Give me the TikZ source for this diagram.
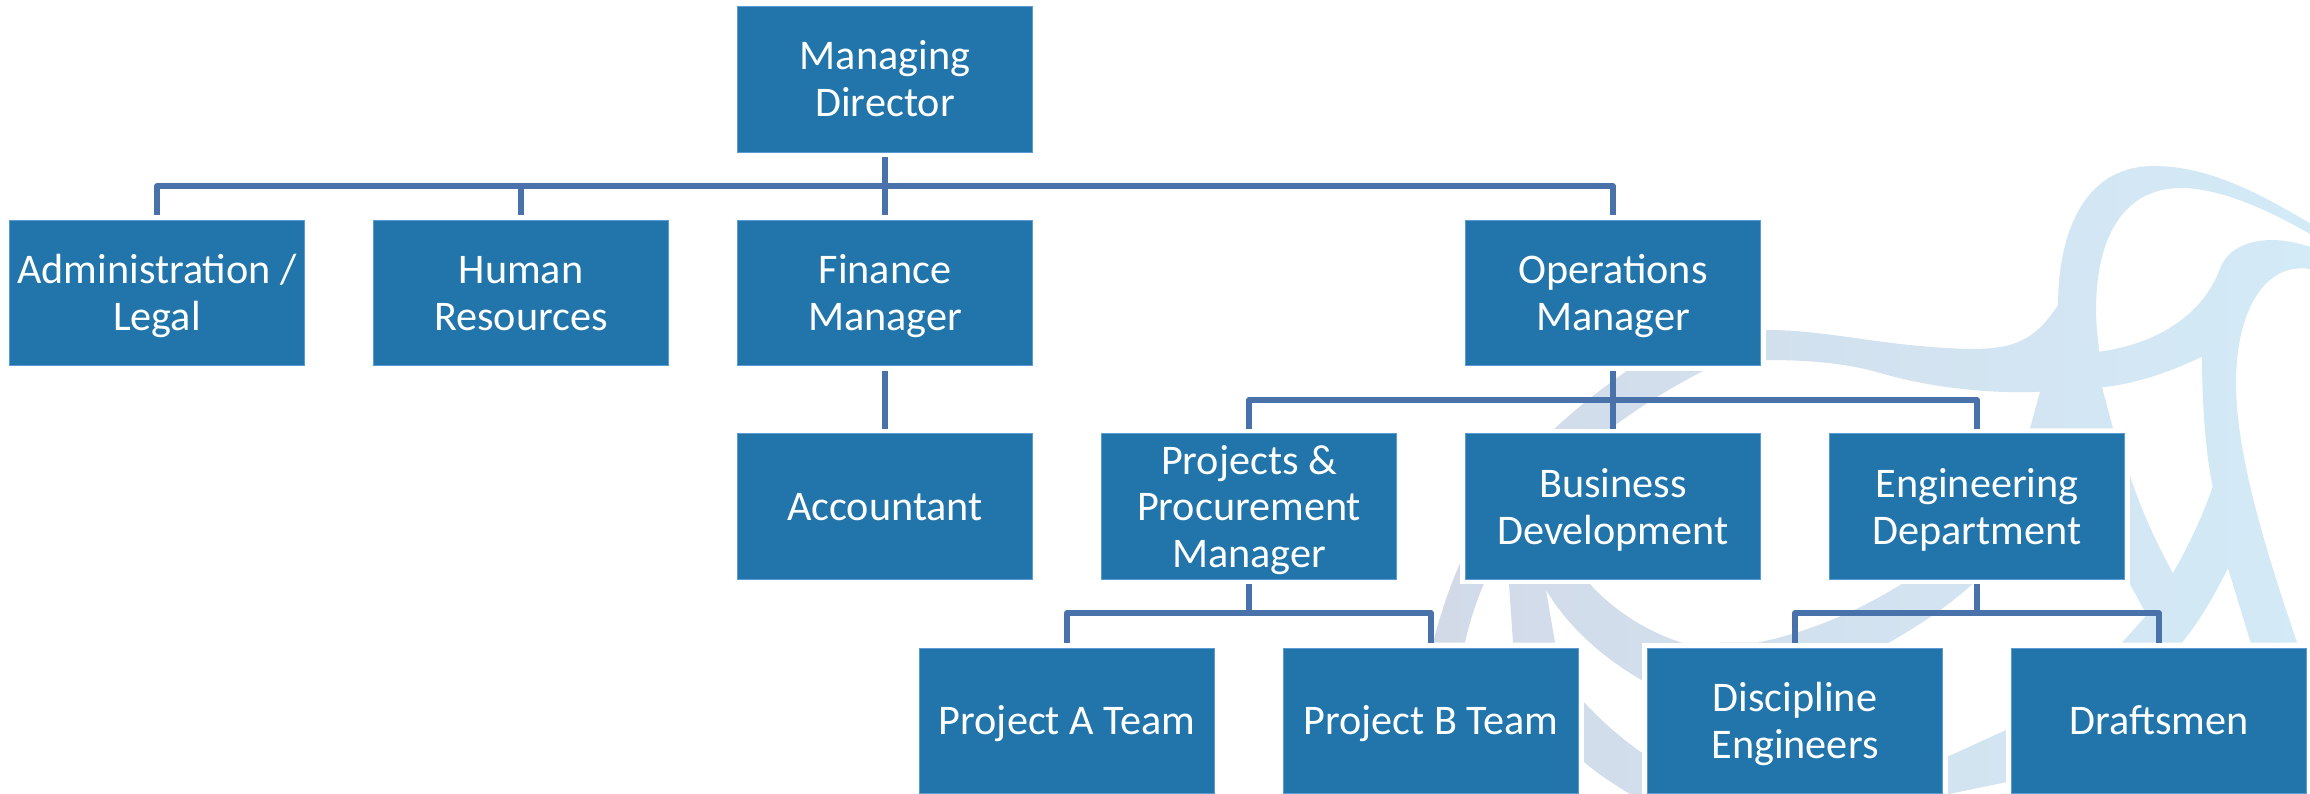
\documentclass[tikz,border=0pt]{standalone}
\usepackage{fontspec}
\setmainfont{Carlito}
\usetikzlibrary{backgrounds}
\definecolor{boxblue}{HTML}{2175AA}
\definecolor{boxedge}{HTML}{5B9BD5}
\definecolor{linkblue}{HTML}{4A72AA}
\definecolor{wmleft}{HTML}{D2DAE8}
\definecolor{wmmid}{HTML}{D1E0EE}
\definecolor{wmright}{HTML}{D3EAF7}
\newcommand{\lbl}[1]{\raisebox{-4.8pt}[\height][\depth]{\begin{tabular}{@{}c@{}}#1\end{tabular}}}
\tikzset{
  orgbox/.style={rectangle,fill=boxblue,draw=boxedge,line width=.8pt,text=white,
    minimum width=295.5pt,minimum height=145.7pt,inner sep=0pt,outer sep=0pt,
    font=\fontsize{42.2}{46.7}\selectfont,
    preaction={draw=white,line width=10pt,rounded corners=2pt}},
  link/.style={draw=linkblue,line width=5.6pt,line join=round},
}
\begin{document}
\begin{tikzpicture}[x=1pt,y=-1pt]
\useasboundingbox (0,0) rectangle (2310,794);
% nodes
\node[orgbox] (md) at (885,79.2) {\lbl{Managing\\Director}};
\node[orgbox] (adm) at (157,292.8) {\lbl{Administration /\\Legal}};
\node[orgbox] (hr) at (521,292.8) {\lbl{Human\\Resources}};
\node[orgbox] (fin) at (885,292.8) {\lbl{Finance\\Manager}};
\node[orgbox] (ops) at (1613,292.8) {\lbl{Operations\\Manager}};
\node[orgbox] (acc) at (885,506.6) {\lbl{Accountant}};
\node[orgbox] (ppm) at (1249,506.6) {\lbl{Projects \&\\Procurement\\Manager}};
\node[orgbox] (biz) at (1613,506.6) {\lbl{Business\\Development}};
\node[orgbox] (eng) at (1977,506.6) {\lbl{Engineering\\Department}};
\node[orgbox] (pa) at (1067,720.8) {\lbl{Project A Team}};
\node[orgbox] (pb) at (1431,720.8) {\lbl{Project B Team}};
\node[orgbox] (disc) at (1795,720.8) {\lbl{Discipline\\Engineers}};
\node[orgbox] (draft) at (2159,720.8) {\lbl{Draftsmen}};
\coordinate (bus1) at (885,186);
\coordinate (bus2) at (1613,400);
\coordinate (bus3) at (1249,613);
\coordinate (bus4) at (1977,613);
\begin{scope}[on background layer]
% watermark
\shade[left color=wmleft,middle color=wmmid,right color=wmright]
  % upper sweep with arches
  (1760,330) -- (1766.7,330)
  .. controls (1830,330) and (1885,347) .. (1970.5,349)
  .. controls (2015,349) and (2035,340) .. (2058.1,305)
  .. controls (2058,240) and (2080,166) .. (2154,166)
  .. controls (2210,166) and (2262,195) .. (2310,223.3)
  -- (2310,234)
  .. controls (2260,205) and (2215,188) .. (2181,188)
  .. controls (2125,188) and (2096,235) .. (2096,310)
  .. controls (2096,325) and (2098,340) .. (2099.2,351.7)
  .. controls (2150,345) and (2200,320) .. (2219.5,270)
  .. controls (2228,245) and (2255,240) .. (2272,240)
  .. controls (2285,240) and (2298,243) .. (2310,246.7)
  -- (2310,269)
  .. controls (2265,262) and (2236,310) .. (2236,383.3)
  .. controls (2236,450) and (2262,540) .. (2297,642.5)
  -- (2250.6,642.5) -- (2228,568.3)
  .. controls (2210,603) and (2200,620) .. (2182,642.5)
  -- (2122,642.5) -- (2146.8,615) -- (2125,575) -- (2125,465) -- (2130.6,478)
  .. controls (2145,520) and (2158,545) .. (2172.8,573.3)
  .. controls (2190,543) and (2203,515) .. (2212.7,486.7)
  .. controls (2205,450) and (2202,400) .. (2202,356.7)
  .. controls (2170,372) and (2135,384) .. (2102,387.3)
  -- (2113,428.3) -- (2030,428.3) -- (2040,391.7)
  .. controls (1990,394) and (1930,388) .. (1875.7,371.7)
  .. controls (1840,362) and (1800,360) .. (1766.7,360)
  -- (1760,360) -- cycle
  % left swoop
  (1630,368) -- (1626.7,371)
  .. controls (1540,432) and (1470,500) .. (1433,642.5)
  -- (1465,642.5)
  .. controls (1490,530) and (1570,440) .. (1703,371)
  -- (1703,368) -- cycle
  % ring
  (1509,584) -- (1513,642.5) -- (1555,642.5) -- (1546,590)
  .. controls (1570,630) and (1610,665) .. (1660,690)
  -- (1800,690) -- (1890,642)
  .. controls (1920,625) and (1948,606) .. (1972.7,584)
  -- (1901.7,584)
  .. controls (1860,610) and (1810,632) .. (1758,642.5)
  -- (1683,643)
  .. controls (1650,633) and (1615,612) .. (1590,584)
  -- cycle
  % lower left band
  (1580,698) -- (1584,702)
  .. controls (1605,725) and (1625,741) .. (1645,755)
  -- (1645,794) -- (1630,794)
  .. controls (1612,783) and (1598,774) .. (1584,762)
  -- (1580,758) -- cycle
  % lower right band
  (1940,760) -- (1949,756) -- (2007,729.6) -- (2007,782) -- (1949,794) -- (1940,794) -- cycle;
% connectors
\draw[link] (md.south) -- (md.south |- bus1) -| (adm.north);
\draw[link] (md.south |- bus1) -| (hr.north);
\draw[link] (md.south) -- (fin.north);
\draw[link] (md.south |- bus1) -| (ops.north);
\draw[link] (fin.south) -- (acc.north);
\draw[link] (ops.south) -- (biz.north);
\draw[link] (ops.south |- bus2) -| (ppm.north);
\draw[link] (ops.south |- bus2) -| (eng.north);
\draw[link] (ppm.south) -- (ppm.south |- bus3) -| (pa.north);
\draw[link] (ppm.south |- bus3) -| (pb.north);
\draw[link] (eng.south) -- (eng.south |- bus4) -| (disc.north);
\draw[link] (eng.south |- bus4) -| (draft.north);
\end{scope}
\end{tikzpicture}
\end{document}
